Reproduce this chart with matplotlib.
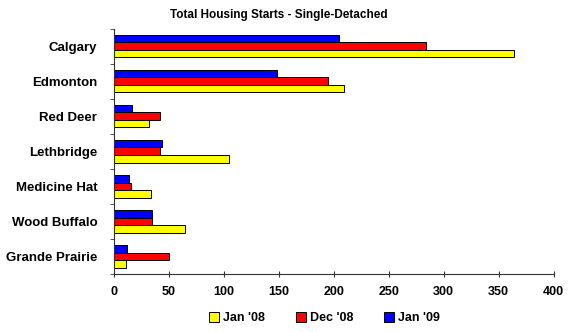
import matplotlib
matplotlib.use("Agg")
import matplotlib.pyplot as plt
import numpy as np

# Data
cities = ['Calgary', 'Edmonton', 'Red Deer', 'Lethbridge',
          'Medicine Hat', 'Wood Buffalo', 'Grande Prairie']
jan_08 = [364, 209, 32, 105, 34, 65, 11]
dec_08 = [284, 195, 42, 42, 16, 35, 50]
jan_09 = [205, 148, 17, 44, 14, 35, 12]
series_labels = ["Jan '08", "Dec '08", "Jan '09"]
x_ticks = [0, 50, 100, 150, 200, 250, 300, 350, 400]

plt.rcParams['font.family'] = ['Liberation Sans', 'DejaVu Sans']

fig = plt.figure(figsize=(5.69, 3.32), dpi=100)
ax = fig.add_axes([0.2, 0.175, 0.773, 0.739])

y = np.arange(len(cities))
h = 0.215
bars_y = ax.barh(y + h, jan_08, height=h, color='#FFFF00', edgecolor='black', linewidth=0.7, label=series_labels[0])
bars_r = ax.barh(y, dec_08, height=h, color='#FF0000', edgecolor='black', linewidth=0.7, label=series_labels[1])
bars_b = ax.barh(y - h, jan_09, height=h, color='#0000FF', edgecolor='black', linewidth=0.7, label=series_labels[2])

ax.set_ylim(len(cities) - 0.5, -0.5)
ax.set_xlim(0, 400)
ax.set_xticks(x_ticks)
ax.set_xticklabels([str(t) for t in x_ticks], fontweight='bold', fontsize=9)
ax.set_yticks(y)
ax.set_yticklabels(cities, fontweight='bold', fontsize=9.5)
ax.set_yticks(np.arange(len(cities) + 1) - 0.5, minor=True)
ax.tick_params(axis='y', which='major', length=0, pad=12)
ax.tick_params(axis='y', which='minor', length=3, direction='out', color='#333333')
ax.tick_params(axis='x', which='major', length=5, direction='inout', pad=6, color='#333333')

for side in ['top', 'right']:
    ax.spines[side].set_visible(False)
ax.spines['left'].set_color('#333333')
ax.spines['bottom'].set_color('#333333')

# title is centred over the whole figure in the reference
fig.text(0.49, 1 - 15 / 332, 'Total Housing Starts - Single-Detached',
         ha='center', va='center', fontsize=8.5, fontweight='bold')

fig.legend(handles=[bars_y, bars_r, bars_b], labels=series_labels,
           loc='lower center', bbox_to_anchor=(0.57, -0.01), ncol=3, frameon=False,
           prop={'weight': 'bold', 'size': 9}, handlelength=0.8, handleheight=0.8,
           handletextpad=0.3, columnspacing=2.5)

fig.savefig('out.png', dpi=100)
